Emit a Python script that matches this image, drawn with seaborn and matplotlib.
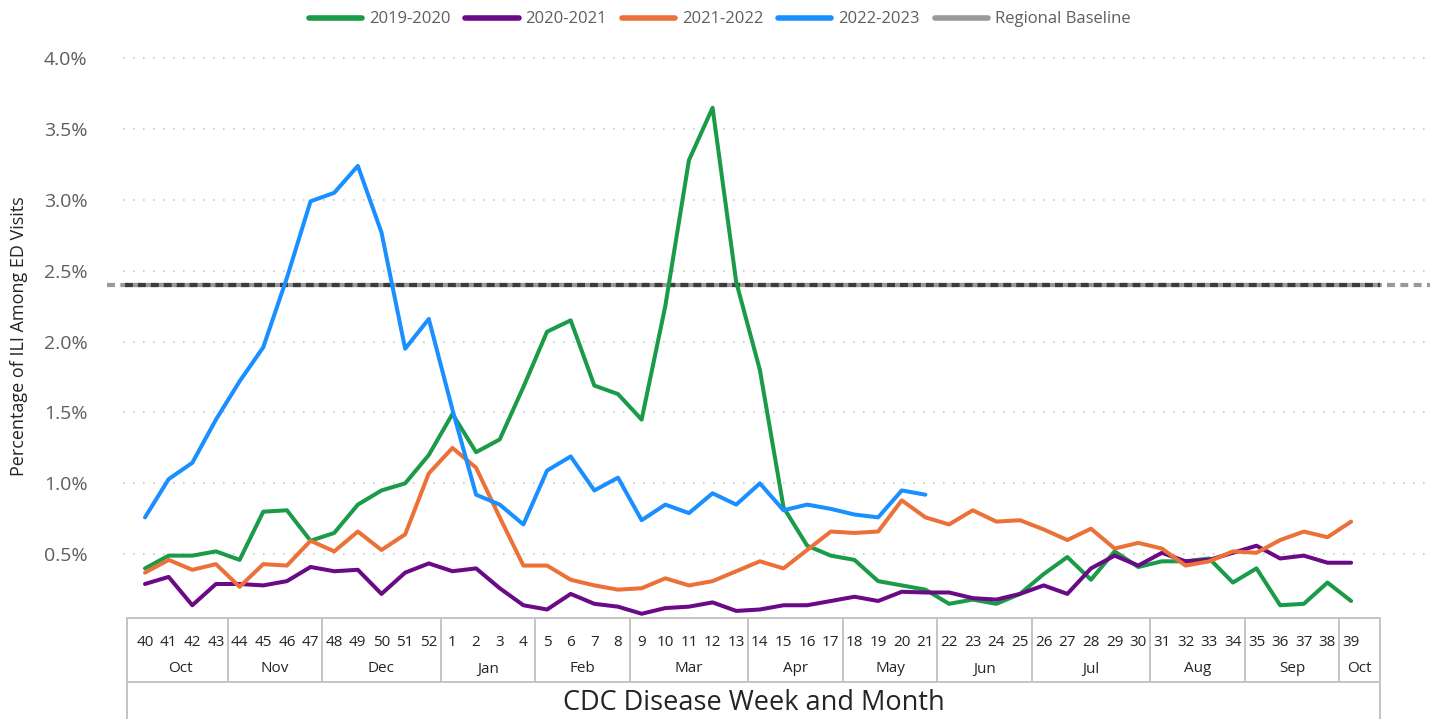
import numpy as np
import pandas as pd
import matplotlib
matplotlib.use("Agg")
import matplotlib.pyplot as plt
import seaborn as sns
from matplotlib.lines import Line2D

# CDC weeks of the season (Oct -> next Oct)
weeks = [40, 41, 42, 43, 44, 45, 46, 47, 48, 49, 50, 51, 52,
         1, 2, 3, 4, 5, 6, 7, 8, 9, 10, 11, 12, 13,
         14, 15, 16, 17, 18, 19, 20, 21, 22, 23, 24, 25, 26,
         27, 28, 29, 30, 31, 32, 33, 34, 35, 36, 37, 38, 39]
month_names = ["Oct", "Nov", "Dec", "Jan", "Feb", "Mar", "Apr",
               "May", "Jun", "Jul", "Aug", "Sep", "Oct"]
month_lengths = [4, 4, 5, 4, 4, 5, 4, 4, 4, 5, 4, 4, 1]

# percentage of ILI among ED visits
ili_2019 = [0.40, 0.49, 0.49, 0.52, 0.46, 0.80, 0.81, 0.595, 0.65, 0.85, 0.95, 1.00, 1.20,
            1.49, 1.22, 1.31, 1.68, 2.07, 2.15, 1.69, 1.63, 1.45, 2.25, 3.28, 3.65, 2.42,
            1.80, 0.83, 0.56, 0.49, 0.46, 0.31, 0.28, 0.25, 0.15, 0.18, 0.15, 0.22, 0.36,
            0.48, 0.32, 0.52, 0.41, 0.45, 0.45, 0.47, 0.30, 0.40, 0.14, 0.15, 0.30, 0.17]
ili_2020 = [0.29, 0.34, 0.14, 0.29, 0.29, 0.28, 0.31, 0.41, 0.38, 0.39, 0.22, 0.37, 0.435,
            0.38, 0.40, 0.26, 0.14, 0.11, 0.22, 0.15, 0.13, 0.08, 0.12, 0.13, 0.16, 0.10,
            0.11, 0.14, 0.14, 0.17, 0.20, 0.17, 0.235, 0.23, 0.23, 0.19, 0.18, 0.22, 0.28,
            0.22, 0.40, 0.49, 0.42, 0.51, 0.45, 0.46, 0.51, 0.56, 0.47, 0.49, 0.44, 0.44]
ili_2021 = [0.37, 0.46, 0.39, 0.43, 0.27, 0.43, 0.42, 0.595, 0.52, 0.66, 0.53, 0.64, 1.07,
            1.25, 1.11, 0.76, 0.42, 0.42, 0.32, 0.28, 0.25, 0.26, 0.33, 0.28, 0.31, 0.38,
            0.45, 0.40, 0.53, 0.66, 0.65, 0.66, 0.88, 0.76, 0.71, 0.81, 0.73, 0.74, 0.675,
            0.60, 0.68, 0.54, 0.58, 0.54, 0.42, 0.45, 0.52, 0.51, 0.60, 0.66, 0.62, 0.73]
ili_2022 = [0.76, 1.03, 1.145, 1.45, 1.72, 1.96, 2.45, 2.99, 3.05, 3.24, 2.77, 1.95, 2.16,
            1.52, 0.92, 0.85, 0.71, 1.09, 1.19, 0.95, 1.04, 0.74, 0.85, 0.79, 0.93, 0.85,
            1.00, 0.81, 0.85, 0.82, 0.78, 0.76, 0.95, 0.92] + [np.nan] * 18
baseline = 2.4

seasons = ["2019-2020", "2020-2021", "2021-2022", "2022-2023"]
colors = {
    "2019-2020": "#1A9B47",
    "2020-2021": "#6B0A86",
    "2021-2022": "#EB7139",
    "2022-2023": "#1A8FFF",
}
baseline_color = "#999999"

sns.set_theme(style="white")
plt.rcParams["font.family"] = ["Open Sans", "DejaVu Sans"]

# LONG TABLE
rows = []
for season, vals in zip(seasons, [ili_2019, ili_2020, ili_2021, ili_2022]):
    for i, v in enumerate(vals):
        rows.append({"pos": i, "week": weeks[i], "season": season, "ili": v})
df = pd.DataFrame(rows).dropna()

# FIGURE
W, H = 1439, 719
fig = plt.figure(figsize=(W / 100, H / 100), dpi=100)
ax = fig.add_axes([107 / W, 101 / H, 1323 / W, 574 / H])

ax.set_xlim(-1.607, 54.336)
ax.set_ylim(0.05, 4.1)

# dotted grid
yticks = [0.5, 1.0, 1.5, 2.0, 2.5, 3.0, 3.5, 4.0]
for v in yticks:
    ax.axhline(v, xmin=0.012, xmax=1, color="#c8c8c8",
               linestyle=(0, (1, 5)), linewidth=1.2, zorder=0)

# regional baseline
ax.axhline(baseline, color=baseline_color, linewidth=3,
           linestyle=(0, (1.9, 1.3)), zorder=1)
ax.axhline(baseline, xmin=(125 - 107) / 1323, xmax=(1380 - 107) / 1323,
           color=baseline_color, linewidth=3, zorder=1)
ax.axhline(baseline, xmin=(125 - 107) / 1323, xmax=(1380 - 107) / 1323,
           color="#3c3c3c", linewidth=3, linestyle=(0, (1.9, 1.2)), zorder=1)

# SEASON LINES
sns.lineplot(data=df, x="pos", y="ili", hue="season", palette=colors,
             hue_order=seasons, linewidth=2.9, estimator=None, sort=False,
             legend=False, ax=ax, zorder=3)

ax.set_xlabel("")
ax.set_ylabel("")
ax.set_xticks([])
ax.set_yticks(yticks)
ax.set_yticklabels([f"{v:.1f}%" for v in yticks])
ax.tick_params(axis="y", length=0, pad=14, labelsize=14, labelcolor="#605E5C")
for s in ax.spines.values():
    s.set_visible(False)

# WEEK / MONTH TABLE UNDER THE AXIS
trans = ax.get_xaxis_transform()


def ay(p):
    return (618 - p) / 574


x_left, x_right = -0.761, 52.22
line_kw = dict(transform=trans, clip_on=False, color="#c4c4c4", linewidth=1.4)
ax.plot([x_left, x_right], [0, 0], **line_kw)
ax.plot([x_left, x_right], [ay(682), ay(682)], **line_kw)
ax.plot([x_left, x_left], [0, ay(719)], **line_kw)
ax.plot([x_right, x_right], [0, ay(719)], **line_kw)

text_color = "#252423"
for i, w in enumerate(weeks):
    ax.text(i, ay(642), str(w), transform=trans, ha="center", va="center",
            fontsize=11, color=text_color)

start = 0
for name, n in zip(month_names, month_lengths):
    lo = max(start - 0.5, x_left)
    hi = min(start + n - 0.5, x_right)
    if start + n < len(weeks):
        ax.plot([hi, hi], [0, ay(682)], **line_kw)
    else:
        hi = x_right
    ax.text((lo + hi) / 2, ay(669), name, transform=trans, ha="center",
            va="center", fontsize=11, color=text_color)
    start += n

ax.text((x_left + x_right) / 2, ay(703), "CDC Disease Week and Month",
        transform=trans, ha="center", va="center", fontsize=19.5, color=text_color)

fig.text(19 / W, 1 - 336 / H, "Percentage of ILI Among ED Visits", rotation=90,
         ha="center", va="center", fontsize=13, color=text_color)

# LEGEND
handles = [Line2D([0], [0], color=colors[s], linewidth=4) for s in seasons]
handles.append(Line2D([0], [0], color=baseline_color, linewidth=4))
labels = seasons + ["Regional Baseline"]
leg = fig.legend(handles, labels, loc="upper center", bbox_to_anchor=(0.5, 1.005),
                 ncol=5, frameon=False, fontsize=12, handlelength=3.2,
                 handletextpad=0.4, columnspacing=0.9)
for t in leg.get_texts():
    t.set_color("#605E5C")

fig.savefig("out.png", dpi=100)
